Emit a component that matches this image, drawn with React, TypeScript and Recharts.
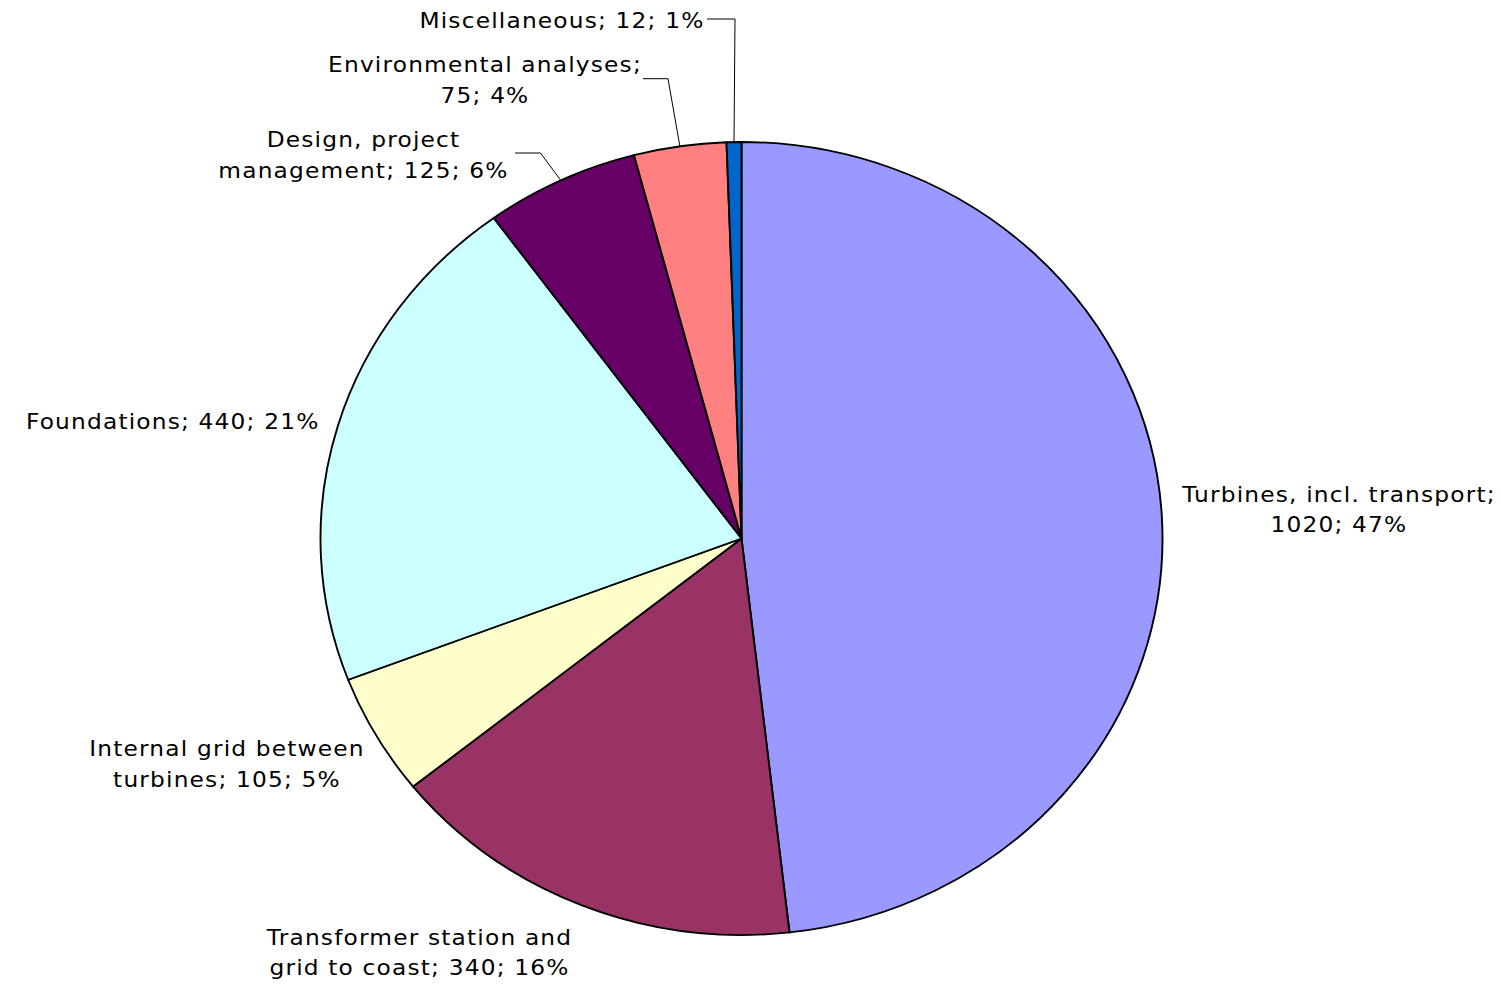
import React from 'react';
import { PieChart, Pie, Cell, Sector } from 'recharts';

const categories = [
  'Turbines, incl. transport',
  'Transformer station and grid to coast',
  'Internal grid between turbines',
  'Foundations',
  'Design, project management',
  'Environmental analyses',
  'Miscellaneous',
];
const values = [1020, 340, 105, 440, 125, 75, 12];
const percentLabels = ['47%', '16%', '5%', '21%', '6%', '4%', '1%'];
const labelTexts = [
  ['Turbines, incl. transport;', '1020; 47%'],
  ['Transformer station and', 'grid to coast; 340; 16%'],
  ['Internal grid between', 'turbines; 105; 5%'],
  ['Foundations; 440; 21%'],
  ['Design, project', 'management; 125; 6%'],
  ['Environmental analyses;', '75; 4%'],
  ['Miscellaneous; 12; 1%'],
];
const colors = ['#9999FF', '#993366', '#FFFFCC', '#CCFFFF', '#660066', '#FF8080', '#0066CC'];

const data = categories.map((name, i) => ({ name, value: values[i], pct: percentLabels[i] }));

const W = 1501;
const H = 984;
const CX = 741.5;
const CY = 538.5;
const RY = 396.5;
const SX = 421 / 396.5;
const FONT = '"DejaVu Sans", Verdana, sans-serif';
const FS = 22;
const TSX = 1.06;
const LS = 1.1;
const LINE_H = 30.5;

// label layout: offsets relative to the pie centre
type Layout = { dx: number; dy: number; anchor: 'start' | 'middle' | 'end'; leader?: { sx: number; ex: number; y: number } };
const layout: Layout[] = [
  { dx: 597.5, dy: -36.5, anchor: 'middle' },
  { dx: -322, dy: 406.5, anchor: 'middle' },
  { dx: -514.5, dy: 218, anchor: 'middle' },
  { dx: -422, dy: -109.5, anchor: 'end' },
  { dx: -378, dy: -391, anchor: 'middle', leader: { sx: -226.5, ex: -201, y: -385.5 } },
  { dx: -256.5, dy: -466, anchor: 'middle', leader: { sx: -98.5, ex: -73.5, y: -459.8 } },
  { dx: -37, dy: -510, anchor: 'end', leader: { sx: -34.5, ex: -6.5, y: -519.5 } },
];

const EllipseSector = (props: any) => {
  const { cx, cy } = props;
  return (
    <g transform={`translate(${cx} ${cy}) scale(${SX} 1) translate(${-cx} ${-cy})`}>
      <Sector {...props} />
    </g>
  );
};

const RAD = Math.PI / 180;

const renderLabel = (props: any) => {
  const { index, midAngle, outerRadius } = props;
  const L = layout[index];
  const lines = labelTexts[index];
  const x = CX + L.dx;
  const y0 = CY + L.dy;
  let leader = null;
  if (L.leader) {
    const px = CX + SX * outerRadius * Math.cos(midAngle * RAD);
    const py = CY - outerRadius * Math.sin(midAngle * RAD);
    const ly = CY + L.leader.y;
    leader = (
      <polyline
        points={`${CX + L.leader.sx},${ly} ${CX + L.leader.ex},${ly} ${px},${py}`}
        fill="none"
        stroke="#000"
        strokeWidth={1}
      />
    );
  }
  return (
    <g key={`lbl-${index}`}>
      {leader}
      <g transform={`translate(${x} 0) scale(${TSX} 1) translate(${-x} 0)`}>
        <text
          x={x}
          y={y0}
          textAnchor={L.anchor}
          fontFamily={FONT}
          fontSize={FS}
          letterSpacing={LS}
          fill="#000"
        >
          {lines.map((t, i) => (
            <tspan key={i} x={x} y={y0 + i * LINE_H}>
              {t}
            </tspan>
          ))}
        </text>
      </g>
    </g>
  );
};

export default function App() {
  return (
    <div style={{ position: 'absolute', left: 0, top: 0, width: W, height: H, background: '#fff' }}>
      <PieChart width={W} height={H} margin={{ top: 0, right: 0, bottom: 0, left: 0 }}>
        <Pie
          data={data}
          dataKey="value"
          nameKey="name"
          cx={CX}
          cy={CY}
          innerRadius={0}
          outerRadius={RY}
          startAngle={90}
          endAngle={-270}
          stroke="#000"
          strokeWidth={1.8}
          isAnimationActive={false}
          label={renderLabel}
          labelLine={false}
          shape={EllipseSector}
        >
          {data.map((d, i) => (
            <Cell key={d.name} fill={colors[i]} />
          ))}
        </Pie>
      </PieChart>
    </div>
  );
}
